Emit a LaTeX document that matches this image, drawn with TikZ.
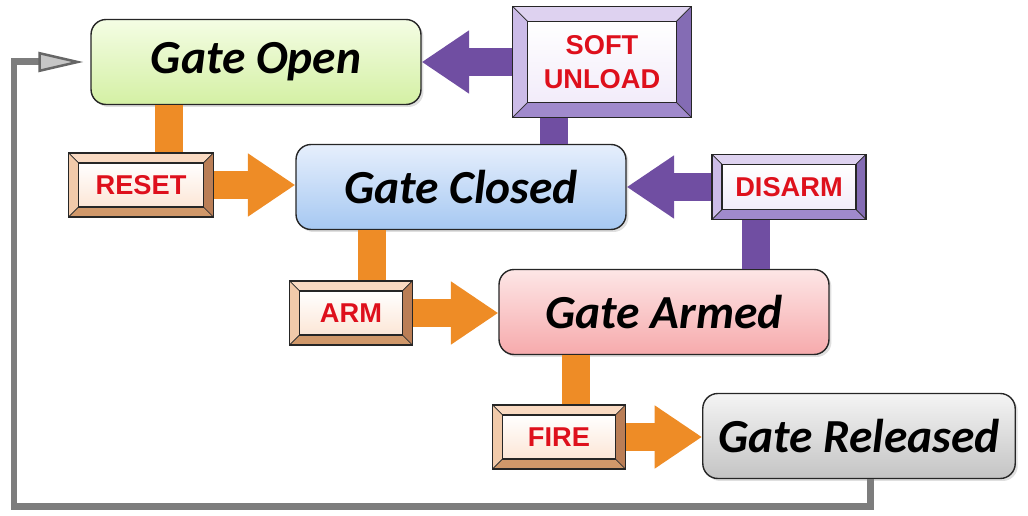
\documentclass[tikz,border=0pt]{standalone}
\usepackage{fontspec}
\newfontfamily\statefont{Carlito}
\newfontfamily\labelfont{Liberation Sans}
\usepackage{tikz}
\usetikzlibrary{arrows.meta,calc,positioning,shadows}
\definecolor{barorange}{RGB}{238,140,38}
\definecolor{barpurple}{RGB}{112,78,162}
\definecolor{labelred}{RGB}{222,16,28}
\definecolor{loopgray}{RGB}{125,125,125}
% bevel colours
\definecolor{otop}{RGB}{249,218,194}
\definecolor{oleft}{RGB}{241,202,170}
\definecolor{obottom}{RGB}{208,152,106}
\definecolor{oright}{RGB}{186,126,86}
\definecolor{oinner}{RGB}{252,230,214}
\definecolor{ptop}{RGB}{222,210,240}
\definecolor{pleft}{RGB}{204,188,232}
\definecolor{pbottom}{RGB}{160,138,204}
\definecolor{pright}{RGB}{132,108,180}
\definecolor{pinner}{RGB}{242,236,250}
% state colours
\definecolor{opentop}{RGB}{244,253,228}
\definecolor{openbot}{RGB}{212,240,164}
\definecolor{closedtop}{RGB}{230,239,252}
\definecolor{closedbot}{RGB}{166,200,242}
\definecolor{armedtop}{RGB}{253,230,230}
\definecolor{armedbot}{RGB}{246,170,172}
\definecolor{reltop}{RGB}{244,244,244}
\definecolor{relbot}{RGB}{196,196,196}
\tikzset{
        bw/.initial=10,
        state/.style = {draw=black!85, thick, rounded corners=0.3cm,
            minimum width=6.6cm, minimum height=1.7cm,
            drop shadow={opacity=0.25, shadow xshift=0.05cm, shadow yshift=-0.05cm},
            font=\statefont\bfseries\itshape\fontsize{27}{30}\selectfont},
        bevelbox/.style n args={5}{draw=black!85, thick, fill=#3, inner sep=0pt,
            font=\labelfont\bfseries\fontsize{15.5}{19}\selectfont,
            text=labelred, align=center,
            path picture={
                \coordinate (bnw) at (path picture bounding box.north west);
                \coordinate (bse) at (path picture bounding box.south east);
                \coordinate (inw) at ($(bnw)+(\pgfkeysvalueof{/tikz/bw},\pgfkeysvalueof{/tikz/bw})$);
                \coordinate (ise) at ($(bse)-(\pgfkeysvalueof{/tikz/bw},\pgfkeysvalueof{/tikz/bw})$);
                \filldraw[fill=#1, draw=black!80, thin] (bnw) -- (bse|-bnw) -- (ise|-inw) -- (inw) -- cycle;
                \filldraw[fill=#2, draw=black!80, thin] (bnw) -- (inw) -- (inw|-ise) -- (bnw|-bse) -- cycle;
                \filldraw[fill=#3, draw=black!80, thin] (bnw|-bse) -- (inw|-ise) -- (ise) -- (bse) -- cycle;
                \filldraw[fill=#4, draw=black!80, thin] (bse|-bnw) -- (ise|-inw) -- (ise) -- (bse) -- cycle;
                \draw[black!85, semithick, top color=white, bottom color=#5] (inw) rectangle (ise);
            }},
        orangebox/.style = {bevelbox={otop}{oleft}{obottom}{oright}{oinner}},
        purplebox/.style = {bevelbox={ptop}{pleft}{pbottom}{pright}{pinner}},
        obar/.style = {draw=barorange, line width=0.56cm},
        pbar/.style = {draw=barpurple, line width=0.56cm},
        oarrow/.style = {obar, -{Triangle[length=0.95cm, width=1.2cm]}},
        parrow/.style = {pbar, -{Triangle[length=0.95cm, width=1.2cm]}},
        loopline/.style = {draw=loopgray, line width=0.14cm, line join=miter,
            -{Triangle[length=0.9cm, width=0.4cm, color=black!60, fill=gray!45, line width=0.05cm]}, shorten >=0.14cm},
    }

\begin{document}
\begin{tikzpicture}[x=0.02cm, y=-0.02cm]
    \useasboundingbox (0,0) rectangle (1028,516);

    % states
    \node[state, top color=opentop, bottom color=openbot] (open) at (256,62) {Gate Open};
    \node[state, top color=closedtop, bottom color=closedbot] (closed) at ($(open)+(205,125)$) {Gate Closed};
    \node[state, top color=armedtop, bottom color=armedbot] (armed) at ($(closed)+(203,125)$) {Gate Armed};
    \node[state, minimum width=6.25cm, top color=reltop, bottom color=relbot] (released) at ($(armed)+(195,124)$) {Gate Released};

    % commands
    \node[orangebox, minimum width=2.9cm, minimum height=1.28cm] (reset) at ($(open)+(-115,123)$) {RESET};
    \node[orangebox, minimum width=2.46cm, minimum height=1.28cm] (arm) at ($(closed)+(-110,126)$) {ARM};
    \node[orangebox, minimum width=2.66cm, minimum height=1.28cm] (fire) at ($(armed)+(-105,125)$) {FIRE};
    \node[purplebox, bw=15, minimum width=3.58cm, minimum height=2.22cm] (soft) at ($(open)+(346,0)$) {SOFT\\UNLOAD};
    \node[purplebox, minimum width=3.08cm, minimum height=1.3cm] (disarm) at ($(closed)+(328,0)$) {DISARM};

    % transitions
    \draw[obar] ($(reset.north)+(28,0)$) coordinate (r1) -- (r1 |- open.south);
    \draw[oarrow] (reset.east) -- (reset.east -| closed.west);
    \draw[obar] ($(arm.north)+(21,0)$) coordinate (a1) -- (a1 |- closed.south);
    \draw[oarrow] (arm.east) -- (arm.east -| armed.west);
    \draw[obar] ($(fire.north)+(17,0)$) coordinate (f1) -- (f1 |- armed.south);
    \draw[oarrow] (fire.east) -- (fire.east -| released.west);
    \draw[pbar] ($(soft.south)+(-48,0)$) coordinate (s1) -- (s1 |- closed.north);
    \draw[parrow] (soft.west) -- (soft.west -| open.east);
    \draw[pbar] ($(disarm.south)+(-33,0)$) coordinate (d1) -- (d1 |- armed.north);
    \draw[parrow] (disarm.west) -- (disarm.west -| closed.east);

    % back to the start
    \coordinate (lc) at (14,507);
    \draw[loopline] ($(released.south)+(11,0)$) |- (lc) |- (open.west);
\end{tikzpicture}
\end{document}
